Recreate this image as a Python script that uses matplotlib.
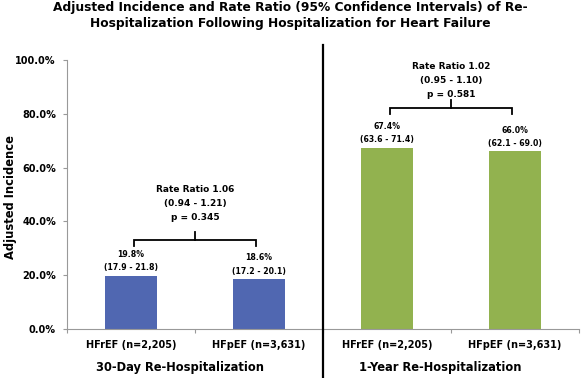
import matplotlib.pyplot as plt
from matplotlib.lines import Line2D

plt.rcParams['font.family'] = ['DejaVu Sans']
plt.rcParams['font.weight'] = 'bold'

categories = ['HFrEF (n=2,205)', 'HFpEF (n=3,631)', 'HFrEF (n=2,205)', 'HFpEF (n=3,631)']
incidence = [19.8, 18.6, 67.4, 66.0]
ci_labels = ['(17.9 - 21.8)', '(17.2 - 20.1)', '(63.6 - 71.4)', '(62.1 - 69.0)']
groups = ['30-Day Re-Hospitalization', '1-Year Re-Hospitalization']
ratio_lines = [['Rate Ratio 1.06', '(0.94 - 1.21)', 'p = 0.345'],
               ['Rate Ratio 1.02', '(0.95 - 1.10)', 'p = 0.581']]
bracket_y = [33.0, 82.0]
text_y = [41.5, 87.3]
bar_colors = ['#5067B1', '#5067B1', '#92B24F', '#92B24F']

fig = plt.figure(figsize=(5.81, 3.78), dpi=100)
ax = fig.add_axes([0.1153, 0.1296, 0.8813, 0.7117])

x = [0.5, 1.5, 2.5, 3.5]
ax.bar(x, incidence, width=0.41, color=bar_colors, zorder=2)

ax.set_xlim(0, 4)
ax.set_ylim(0, 100)
ax.set_yticks([0, 20, 40, 60, 80, 100])
ax.set_yticklabels(['%.1f%%' % v for v in [0, 20, 40, 60, 80, 100]])
ax.set_xticks([0, 1, 2, 3, 4])
ax.set_xticklabels([])
ax.set_xticks(x, minor=True)
ax.set_xticklabels(categories, minor=True)
ax.tick_params(axis='x', which='minor', length=0, pad=8, labelsize=7)
ax.tick_params(axis='x', which='major', length=3, color='#999999')
ax.tick_params(axis='y', length=3, color='#999999', labelsize=7, pad=5)
for side in ['top', 'right']:
    ax.spines[side].set_visible(False)
for side in ['left', 'bottom']:
    ax.spines[side].set_color('#999999')
ax.set_ylabel('Adjusted Incidence', fontsize=8.3, fontweight='bold')
ax.yaxis.set_label_coords(-0.097, 0.49)

# value labels above bars
for xi, v, ci in zip(x, incidence, ci_labels):
    ax.text(xi, v + 2.9, ci, ha='center', va='center', fontsize=5.6)
    ax.text(xi, v + 7.9, '%.1f%%' % v, ha='center', va='center', fontsize=5.6)

# brackets with rate ratio
for g in range(2):
    x0, x1 = x[2 * g], x[2 * g + 1]
    xc = (x0 + x1) / 2
    yb = bracket_y[g]
    ax.plot([x0 + 0.02, x0 + 0.02, x1 - 0.02, x1 - 0.02],
            [yb - 2.0, yb, yb, yb - 2.0], color='black', lw=1.3,
            solid_joinstyle='miter', clip_on=False)
    ax.plot([xc, xc], [yb, yb + 3.0], color='black', lw=1.3)
    for k, line in enumerate(reversed(ratio_lines[g])):
        ax.text(xc, text_y[g] + 5.2 * k, line, ha='center', va='center',
                fontsize=6.5)

# group labels
fig.text(180 / 581, 1 - 368 / 378, groups[0], ha='center', va='center', fontsize=8.3)
fig.text(440 / 581, 1 - 368 / 378, groups[1], ha='center', va='center', fontsize=8.3)

# divider line
fig.add_artist(Line2D([323 / 581, 323 / 581], [0, 1 - 45 / 378],
                      color='black', lw=1.6))

fig.text(0.5, 1 - 15 / 378,
         'Adjusted Incidence and Rate Ratio (95% Confidence Intervals) of Re-\n'
         'Hospitalization Following Hospitalization for Heart Failure',
         ha='center', va='center', fontsize=8.8, linespacing=1.3)

fig.savefig('out.png', dpi=100)
